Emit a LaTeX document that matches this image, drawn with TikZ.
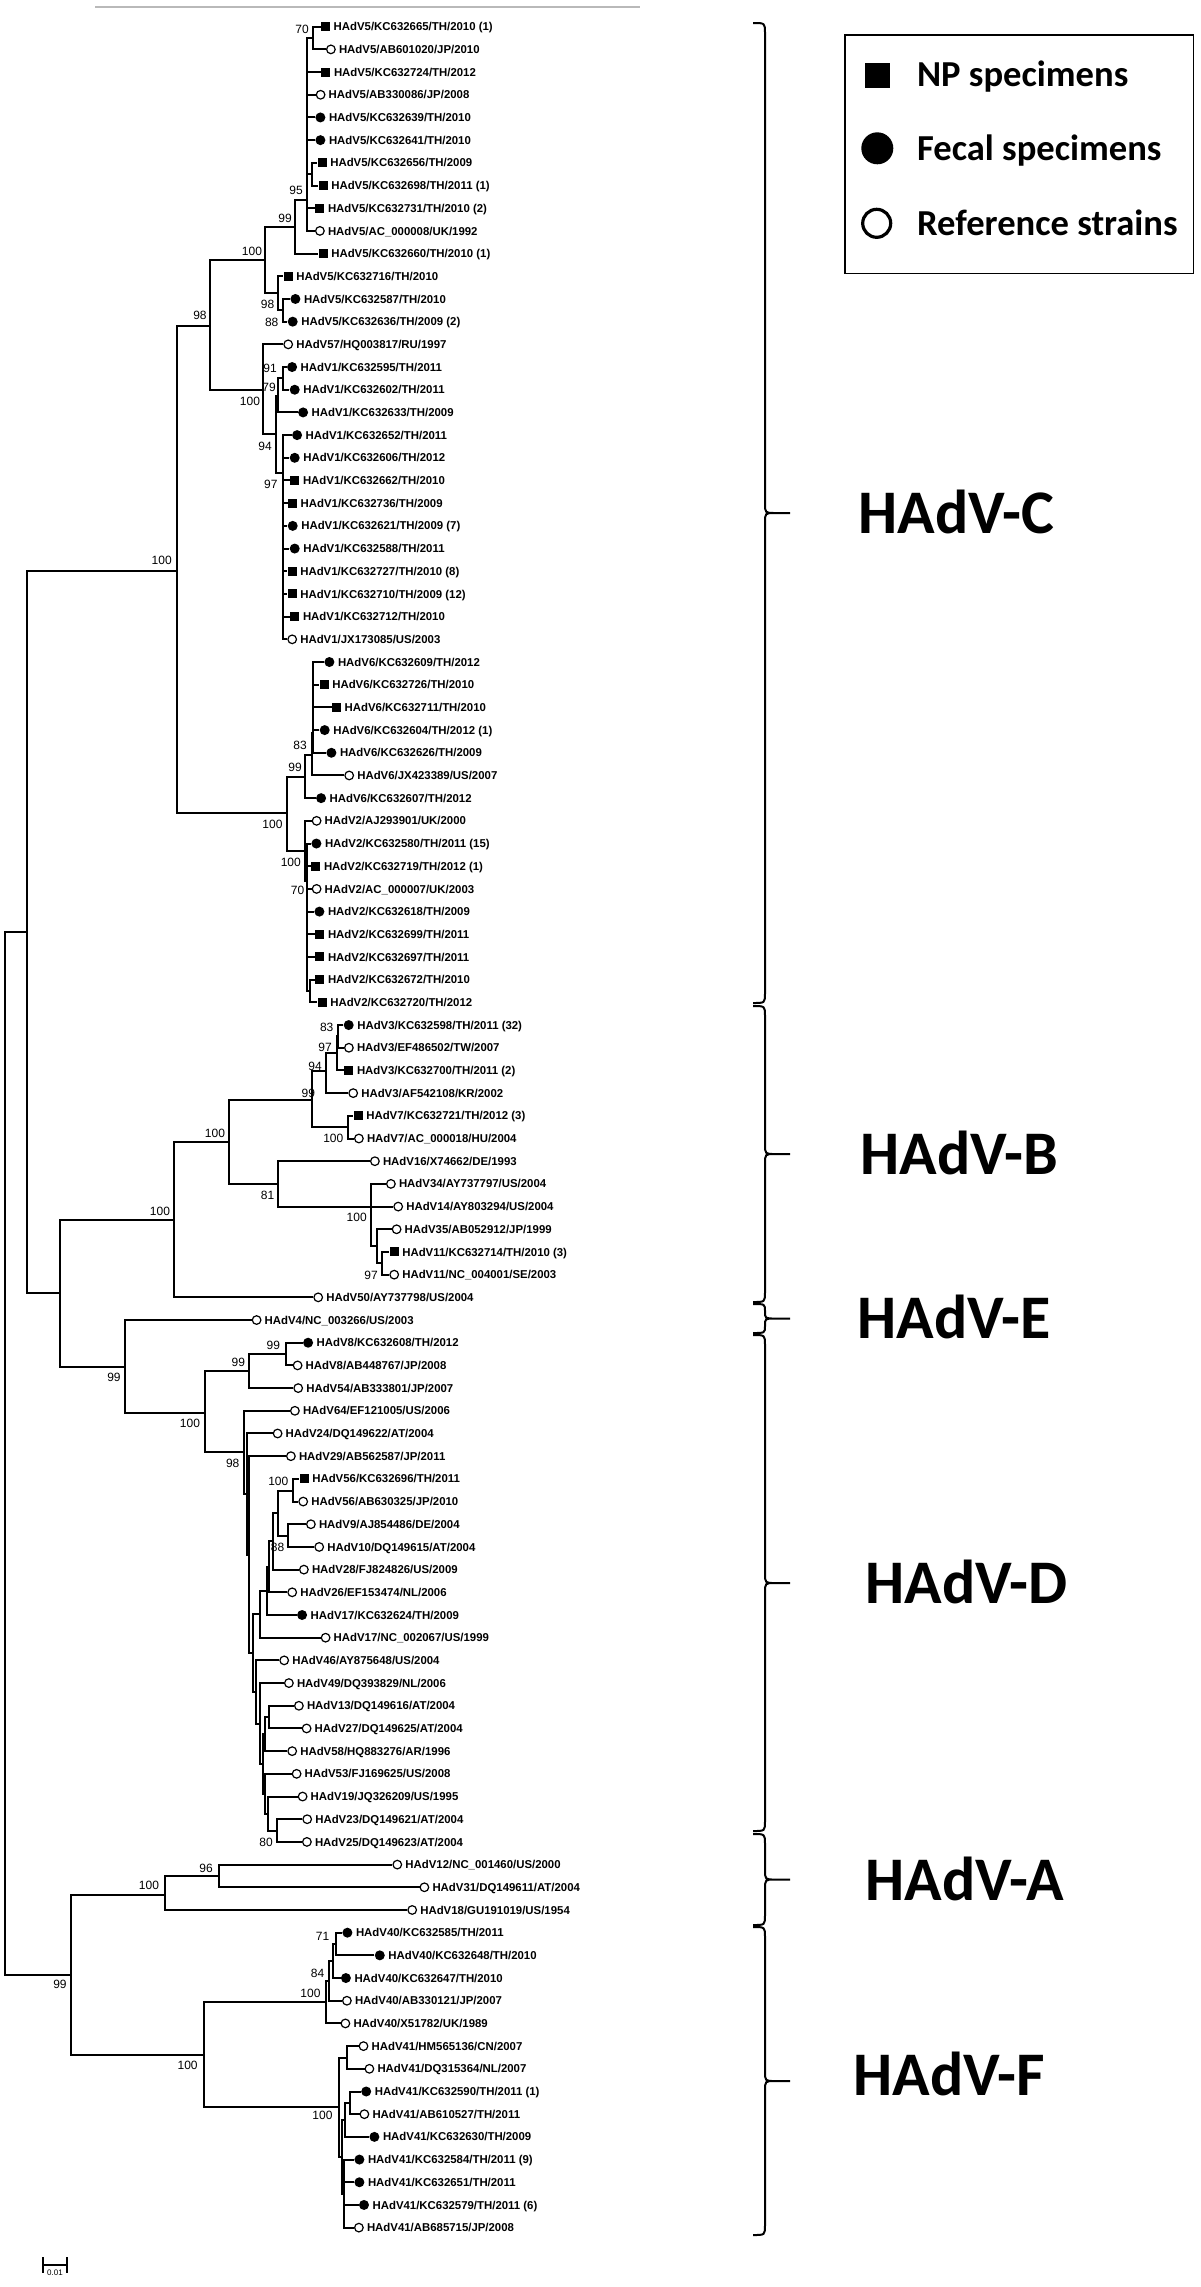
\documentclass[tikz,border=0pt]{standalone}
\usepackage{fontspec}
\setmainfont{Liberation Sans}
\newfontfamily\calib{Carlito}
\usetikzlibrary{positioning}

\newcommand{\leaf}[4]{%
  \coordinate (l#1) at (#2,{4+22.69*#1});
  \node[#3] (s#1) at (l#1) {};
  \node[tx, right=1.4pt of s#1] (t#1) {#4};}

\newcommand{\cbrace}[2]{%
  \pgfmathsetmacro{\ym}{(#1+#2)/2}%
  \pgfmathsetmacro{\rr}{min(10,(#2-#1)/4)}%
  \draw[brc] (753,#1) .. controls (765,#1) .. (765,#1+\rr) -- (765,\ym-\rr)
    .. controls (765,\ym) .. (775,\ym) -- (790,\ym)
    (775,\ym) .. controls (765,\ym) .. (765,\ym+\rr) -- (765,#2-\rr)
    .. controls (765,#2) .. (753,#2);}

\begin{document}
\begin{tikzpicture}[x=0.5pt, y=-0.5pt,
  br/.style={line width=1pt},
  np/.style={rectangle, fill=black, minimum size=4.5pt, inner sep=0pt, anchor=west},
  fe/.style={circle, fill=black, minimum size=5pt, inner sep=0pt, anchor=west},
  rf/.style={circle, draw, line width=0.6pt, minimum size=4.3pt, inner sep=0pt, anchor=west},
  tx/.style={font=\bfseries\fontsize{5.7}{6}\selectfont, inner sep=0pt, text height=4.6pt, text depth=0.5pt},
  bsv/.style={font=\fontsize{6}{6}\selectfont, inner sep=0pt, text height=4.3pt, text depth=0pt},
  brc/.style={line width=1pt},
  clab/.style={font=\calib\bfseries\fontsize{31}{31}\selectfont, inner sep=0pt, anchor=west, text height=20pt, text depth=0pt},
  lgtx/.style={font=\calib\bfseries\fontsize{18.3}{20}\selectfont, inner sep=0pt, anchor=west, text height=11.8pt, text depth=0pt}
]
\useasboundingbox (0,0) rectangle (1200,2287);

\draw[gray!55, line width=0.6pt] (95,7) -- (640,7);

\coordinate (root) at (4.5,1453);
\coordinate (N1) at (27,932);
\coordinate (nC) at (177,571);
\coordinate (n98C) at (210,325.7);
\coordinate (n100C5) at (265,260);
\coordinate (n99C5) at (295,226.7);
\coordinate (n95) at (307.3,200);
\coordinate (n70a) at (313.3,38);
\coordinate (n78) at (312.3,174.2);
\coordinate (n98s) at (278.3,293);
\coordinate (n88) at (282.7,310.3);
\coordinate (n100C1) at (263.3,390);
\coordinate (n94) at (276,434);
\coordinate (n79) at (278.3,395.5);
\coordinate (n91) at (282.7,378.3);
\coordinate (n97) at (283.3,473);
\coordinate (n100d) at (286.7,813);
\coordinate (n99c) at (305,776.7);
\coordinate (n83) at (311.7,755);
\coordinate (nS6) at (313.3,733);
\coordinate (n100e) at (305,851);
\coordinate (n70b) at (307,881);
\coordinate (n4344) at (310,991);
\coordinate (nBED) at (60,1293);
\coordinate (nB50) at (174,1220);
\coordinate (nB100) at (229.3,1142);
\coordinate (n99B) at (311.7,1100);
\coordinate (n94B) at (325.7,1071);
\coordinate (n97B) at (336.7,1053);
\coordinate (n83B) at (338.3,1036.4);
\coordinate (n100B7) at (348.3,1127);
\coordinate (n81) at (278.3,1184.3);
\coordinate (n100B34) at (371,1206.6);
\coordinate (nB54) at (376.7,1246);
\coordinate (n97B11) at (382.3,1263.3);
\coordinate (nED) at (125,1366.5);
\coordinate (n100D) at (205,1413);
\coordinate (n99a) at (249.3,1371);
\coordinate (n99b) at (286,1354);
\coordinate (n98D) at (244.3,1452.4);
\coordinate (nDe) at (246.7,1494);
\coordinate (nDf) at (249.3,1554.6);
\coordinate (nDg) at (252.7,1653);
\coordinate (nDd) at (260,1614.3);
\coordinate (nDc) at (267.3,1590.9);
\coordinate (nDb) at (269.3,1566.8);
\coordinate (n88D) at (273.3,1541.3);
\coordinate (nDa) at (278.3,1513);
\coordinate (n56) at (293.3,1490.5);
\coordinate (n910) at (288.3,1535.6);
\coordinate (n46) at (256,1692);
\coordinate (n49) at (260,1723.5);
\coordinate (nJ) at (263.3,1764);
\coordinate (n58) at (265.3,1734);
\coordinate (n1327) at (269.3,1717);
\coordinate (n53) at (265,1793.7);
\coordinate (n19) at (268.3,1813.5);
\coordinate (n80) at (277,1830.6);
\coordinate (nAF) at (71.3,1974.5);
\coordinate (nA) at (164.6,1895);
\coordinate (n96) at (218.8,1876);
\coordinate (nFr) at (203.9,2054.5);
\coordinate (n100F40) at (325.7,2002);
\coordinate (nX) at (329,1980.8);
\coordinate (n84) at (333,1961);
\coordinate (n71) at (336,1944);
\coordinate (nF41) at (339,2107);
\coordinate (n41a) at (347.3,2057.5);
\coordinate (nF41b) at (341.5,2157);
\coordinate (n41b) at (345,2120);
\coordinate (n92) at (349.6,2103);
\coordinate (n41c) at (344,2193.7);

\leaf{1}{320.7}{np}{HAdV5/KC632665/TH/2010 (1)}
\leaf{2}{326}{rf}{HAdV5/AB601020/JP/2010}
\leaf{3}{321}{np}{HAdV5/KC632724/TH/2012}
\leaf{4}{315.7}{rf}{HAdV5/AB330086/JP/2008}
\leaf{5}{315}{fe}{HAdV5/KC632639/TH/2010}
\leaf{6}{315}{fe}{HAdV5/KC632641/TH/2010}
\leaf{7}{317.3}{np}{HAdV5/KC632656/TH/2009}
\leaf{8}{318.3}{np}{HAdV5/KC632698/TH/2011 (1)}
\leaf{9}{315}{np}{HAdV5/KC632731/TH/2010 (2)}
\leaf{10}{315}{rf}{HAdV5/AC\_000008/UK/1992}
\leaf{11}{318.3}{np}{HAdV5/KC632660/TH/2010 (1)}
\leaf{12}{283.3}{np}{HAdV5/KC632716/TH/2010}
\leaf{13}{290}{fe}{HAdV5/KC632587/TH/2010}
\leaf{14}{287.3}{fe}{HAdV5/KC632636/TH/2009 (2)}
\leaf{15}{283.3}{rf}{HAdV57/HQ003817/RU/1997}
\leaf{16}{286.7}{fe}{HAdV1/KC632595/TH/2011}
\leaf{17}{289.3}{fe}{HAdV1/KC632602/TH/2011}
\leaf{18}{297.7}{fe}{HAdV1/KC632633/TH/2009}
\leaf{19}{291.7}{fe}{HAdV1/KC632652/TH/2011}
\leaf{20}{289.3}{fe}{HAdV1/KC632606/TH/2012}
\leaf{21}{290}{np}{HAdV1/KC632662/TH/2010}
\leaf{22}{287.7}{np}{HAdV1/KC632736/TH/2009}
\leaf{23}{287.3}{fe}{HAdV1/KC632621/TH/2009 (7)}
\leaf{24}{289.3}{fe}{HAdV1/KC632588/TH/2011}
\leaf{25}{287.3}{np}{HAdV1/KC632727/TH/2010 (8)}
\leaf{26}{287.3}{np}{HAdV1/KC632710/TH/2009 (12)}
\leaf{27}{290}{np}{HAdV1/KC632712/TH/2010}
\leaf{28}{287.3}{rf}{HAdV1/JX173085/US/2003}
\leaf{29}{324}{fe}{HAdV6/KC632609/TH/2012}
\leaf{30}{319.3}{np}{HAdV6/KC632726/TH/2010}
\leaf{31}{331.7}{np}{HAdV6/KC632711/TH/2010}
\leaf{32}{319.3}{fe}{HAdV6/KC632604/TH/2012 (1)}
\leaf{33}{326}{fe}{HAdV6/KC632626/TH/2009}
\leaf{34}{344.3}{rf}{HAdV6/JX423389/US/2007}
\leaf{35}{315.7}{fe}{HAdV6/KC632607/TH/2012}
\leaf{36}{311.7}{rf}{HAdV2/AJ293901/UK/2000}
\leaf{37}{311}{fe}{HAdV2/KC632580/TH/2011 (15)}
\leaf{38}{311}{np}{HAdV2/KC632719/TH/2012 (1)}
\leaf{39}{311.7}{rf}{HAdV2/AC\_000007/UK/2003}
\leaf{40}{314}{fe}{HAdV2/KC632618/TH/2009}
\leaf{41}{315}{np}{HAdV2/KC632699/TH/2011}
\leaf{42}{315}{np}{HAdV2/KC632697/TH/2011}
\leaf{43}{315}{np}{HAdV2/KC632672/TH/2010}
\leaf{44}{317.3}{np}{HAdV2/KC632720/TH/2012}
\leaf{45}{343.3}{fe}{HAdV3/KC632598/TH/2011 (32)}
\leaf{46}{344}{rf}{HAdV3/EF486502/TW/2007}
\leaf{47}{344}{np}{HAdV3/KC632700/TH/2011 (2)}
\leaf{48}{348.3}{rf}{HAdV3/AF542108/KR/2002}
\leaf{49}{353.3}{np}{HAdV7/KC632721/TH/2012 (3)}
\leaf{50}{354}{rf}{HAdV7/AC\_000018/HU/2004}
\leaf{51}{370}{rf}{HAdV16/X74662/DE/1993}
\leaf{52}{386}{rf}{HAdV34/AY737797/US/2004}
\leaf{53}{393.3}{rf}{HAdV14/AY803294/US/2004}
\leaf{54}{391.7}{rf}{HAdV35/AB052912/JP/1999}
\leaf{55}{389.3}{np}{HAdV11/KC632714/TH/2010 (3)}
\leaf{56}{389.3}{rf}{HAdV11/NC\_004001/SE/2003}
\leaf{57}{313.3}{rf}{HAdV50/AY737798/US/2004}
\leaf{58}{251.7}{rf}{HAdV4/NC\_003266/US/2003}
\leaf{59}{302.7}{fe}{HAdV8/KC632608/TH/2012}
\leaf{60}{292.7}{rf}{HAdV8/AB448767/JP/2008}
\leaf{61}{293.3}{rf}{HAdV54/AB333801/JP/2007}
\leaf{62}{290}{rf}{HAdV64/EF121005/US/2006}
\leaf{63}{272.7}{rf}{HAdV24/DQ149622/AT/2004}
\leaf{64}{286}{rf}{HAdV29/AB562587/JP/2011}
\leaf{65}{299.3}{np}{HAdV56/KC632696/TH/2011}
\leaf{66}{298.3}{rf}{HAdV56/AB630325/JP/2010}
\leaf{67}{306}{rf}{HAdV9/AJ854486/DE/2004}
\leaf{68}{314.3}{rf}{HAdV10/DQ149615/AT/2004}
\leaf{69}{299}{rf}{HAdV28/FJ824826/US/2009}
\leaf{70}{287.3}{rf}{HAdV26/EF153474/NL/2006}
\leaf{71}{296.7}{fe}{HAdV17/KC632624/TH/2009}
\leaf{72}{320.7}{rf}{HAdV17/NC\_002067/US/1999}
\leaf{73}{279.3}{rf}{HAdV46/AY875648/US/2004}
\leaf{74}{284}{rf}{HAdV49/DQ393829/NL/2006}
\leaf{75}{294}{rf}{HAdV13/DQ149616/AT/2004}
\leaf{76}{301.7}{rf}{HAdV27/DQ149625/AT/2004}
\leaf{77}{287.3}{rf}{HAdV58/HQ883276/AR/1996}
\leaf{78}{291.7}{rf}{HAdV53/FJ169625/US/2008}
\leaf{79}{297.7}{rf}{HAdV19/JQ326209/US/1995}
\leaf{80}{302.3}{rf}{HAdV23/DQ149621/AT/2004}
\leaf{81}{302}{rf}{HAdV25/DQ149623/AT/2004}
\leaf{82}{392.4}{rf}{HAdV12/NC\_001460/US/2000}
\leaf{83}{419.5}{rf}{HAdV31/DQ149611/AT/2004}
\leaf{84}{407.3}{rf}{HAdV18/GU191019/US/1954}
\leaf{85}{342}{fe}{HAdV40/KC632585/TH/2011}
\leaf{86}{374.4}{fe}{HAdV40/KC632648/TH/2010}
\leaf{87}{340.5}{fe}{HAdV40/KC632647/TH/2010}
\leaf{88}{342}{rf}{HAdV40/AB330121/JP/2007}
\leaf{89}{340.5}{rf}{HAdV40/X51782/UK/1989}
\leaf{90}{358.6}{rf}{HAdV41/HM565136/CN/2007}
\leaf{91}{364.5}{rf}{HAdV41/DQ315364/NL/2007}
\leaf{92}{360.8}{fe}{HAdV41/KC632590/TH/2011 (1)}
\leaf{93}{359.5}{rf}{HAdV41/AB610527/TH/2011}
\leaf{94}{369}{fe}{HAdV41/KC632630/TH/2009}
\leaf{95}{354}{fe}{HAdV41/KC632584/TH/2011 (9)}
\leaf{96}{354}{fe}{HAdV41/KC632651/TH/2011}
\leaf{97}{358.6}{fe}{HAdV41/KC632579/TH/2011 (6)}
\leaf{98}{354}{rf}{HAdV41/AB685715/JP/2008}

\foreach \p/\c in {root/N1, root/nAF, N1/nC, N1/nBED,
  nC/n98C, nC/n100d, n98C/n100C5, n98C/n100C1, n100C5/n99C5, n100C5/n98s,
  n99C5/n95, n99C5/l11, n95/n70a, n95/l3, n95/l4, n95/l5, n95/l6, n95/n78, n95/l9, n95/l10,
  n70a/l1, n70a/l2, n78/l7, n78/l8, n98s/l12, n98s/n88, n88/l13, n88/l14,
  n100C1/l15, n100C1/n94, n94/n79, n94/n97, n79/n91, n79/l18, n91/l16, n91/l17,
  n100d/n99c, n100d/n100e, n99c/n83, n99c/l35, n83/nS6, n83/l34,
  n100e/l36, n100e/n70b, n70b/n4344, n4344/l43, n4344/l44,
  nBED/nB50, nBED/nED, nB50/nB100, nB50/l57, nB100/n99B, nB100/n81,
  n99B/n94B, n99B/n100B7, n94B/n97B, n94B/l48, n97B/n83B, n97B/l47, n83B/l45, n83B/l46,
  n100B7/l49, n100B7/l50, n81/l51, n81/n100B34, n100B34/l52, n100B34/l53, n100B34/nB54,
  nB54/l54, nB54/n97B11, n97B11/l55, n97B11/l56,
  nED/l58, nED/n100D, n100D/n99a, n100D/n98D, n99a/n99b, n99a/l61, n99b/l59, n99b/l60,
  n98D/l62, n98D/nDe, nDe/l63, nDe/nDf, nDf/l64, nDf/nDg, nDg/nDd, nDg/n46,
  nDd/nDc, nDd/l72, nDc/nDb, nDc/l71, nDb/n88D, nDb/l70, n88D/nDa, n88D/l69,
  nDa/n56, nDa/n910, n56/l65, n56/l66, n910/l67, n910/l68,
  n46/l73, n46/n49, n49/l74, n49/nJ, nJ/n58, nJ/n53, n58/n1327, n58/l77,
  n1327/l75, n1327/l76, n53/l78, n53/n19, n19/l79, n19/n80, n80/l80, n80/l81,
  nAF/nA, nAF/nFr, nA/n96, nA/l84, n96/l82, n96/l83,
  nFr/n100F40, nFr/nF41, n100F40/nX, n100F40/l89, nX/n84, nX/l88, n84/n71, n84/l87,
  n71/l85, n71/l86, nF41/n41a, nF41/nF41b, n41a/l90, n41a/l91,
  nF41b/n41b, nF41b/n41c, n41b/n92, n41b/l94, n92/l92, n92/l93}
  \draw[br] (\p) |- (\c);
\foreach \i in {19,...,28} \draw[br] (n97) |- (l\i);
\foreach \i in {29,...,33} \draw[br] (nS6) |- (l\i);
\foreach \i in {37,...,42} \draw[br] (n70b) |- (l\i);
\foreach \i in {95,...,98} \draw[br] (n41c) |- (l\i);

\foreach \x/\y/\v [count=\i] in {302/29/70, 296/190/95, 285/218/99, 252/250.7/100,
  267.5/304/98, 271.7/322.3/88, 200/315/98, 270/368.3/91, 269/386.7/79, 250/400.7/100,
  265/445.7/94, 270.8/484/97, 161.7/560/100, 300/745/83, 295/767.3/99, 272.5/824.3/100,
  290.8/861.7/100, 297.5/890/70,
  326.7/1027.3/83, 325/1046.7/97, 315/1066/94, 308.3/1093.3/99, 333.3/1138.3/100,
  215/1133.3/100, 267.5/1195/81, 356.7/1216.7/100, 371/1275/97, 160/1210.7/100,
  114/1377/99,
  273.3/1345/99, 238.3/1362.3/99, 190/1423.3/100, 232.7/1463.3/98, 278.3/1481/100,
  277.5/1546.7/88, 266/1842/80,
  206/1868.3/96, 149/1885/100, 60/1984/99,
  322.5/1936/71, 317.5/1972.7/84, 310.5/1993.3/100, 187.6/2065/100, 322.5/2115/100}
  \node[bsv] (bs\i) at (\x,\y) {\v};

\cbrace{23}{1003}
\cbrace{1006}{1302}
\cbrace{1304}{1333}
\cbrace{1335}{1831}
\cbrace{1834}{1925}
\cbrace{1927}{2235}
\node[clab] (cC) at (858,513) {HAdV-C};
\node[clab] (cB) at (860,1154) {HAdV-B};
\node[clab] (cE) at (857,1318) {HAdV-E};
\node[clab] (cD) at (865,1583) {HAdV-D};
\node[clab] (cA) at (865,1880) {HAdV-A};
\node[clab] (cF) at (853,2075) {HAdV-F};

\node[draw, line width=0.85pt, minimum width=174.2pt, minimum height=119.2pt, inner sep=0pt] (lgd) at (1019.2,154.2) {};
\node[fill=black, minimum size=12.5pt, inner sep=0pt] (knp) at (877.5,75) {};
\node[circle, fill=black, minimum size=16pt, inner sep=0pt] (kfe) at (877.3,148.3) {};
\node[circle, draw, line width=1.6pt, minimum size=14pt, inner sep=0pt] (krf) at (876.7,223.3) {};
\node[lgtx] (knpt) at (916.7,75) {NP specimens};
\node[lgtx] (kfet) at (916.7,148.3) {Fecal specimens};
\node[lgtx] (krft) at (916.7,223.3) {Reference strains};

\coordinate (sb1) at (42,2265);
\coordinate (sb2) at (68,2265);
\draw[line width=1pt, |-|] (sb1) -- (sb2) node[midway, below=2pt, inner sep=0pt, font=\fontsize{4}{4}\selectfont] (sbt) {0.01};
\end{tikzpicture}
\end{document}
